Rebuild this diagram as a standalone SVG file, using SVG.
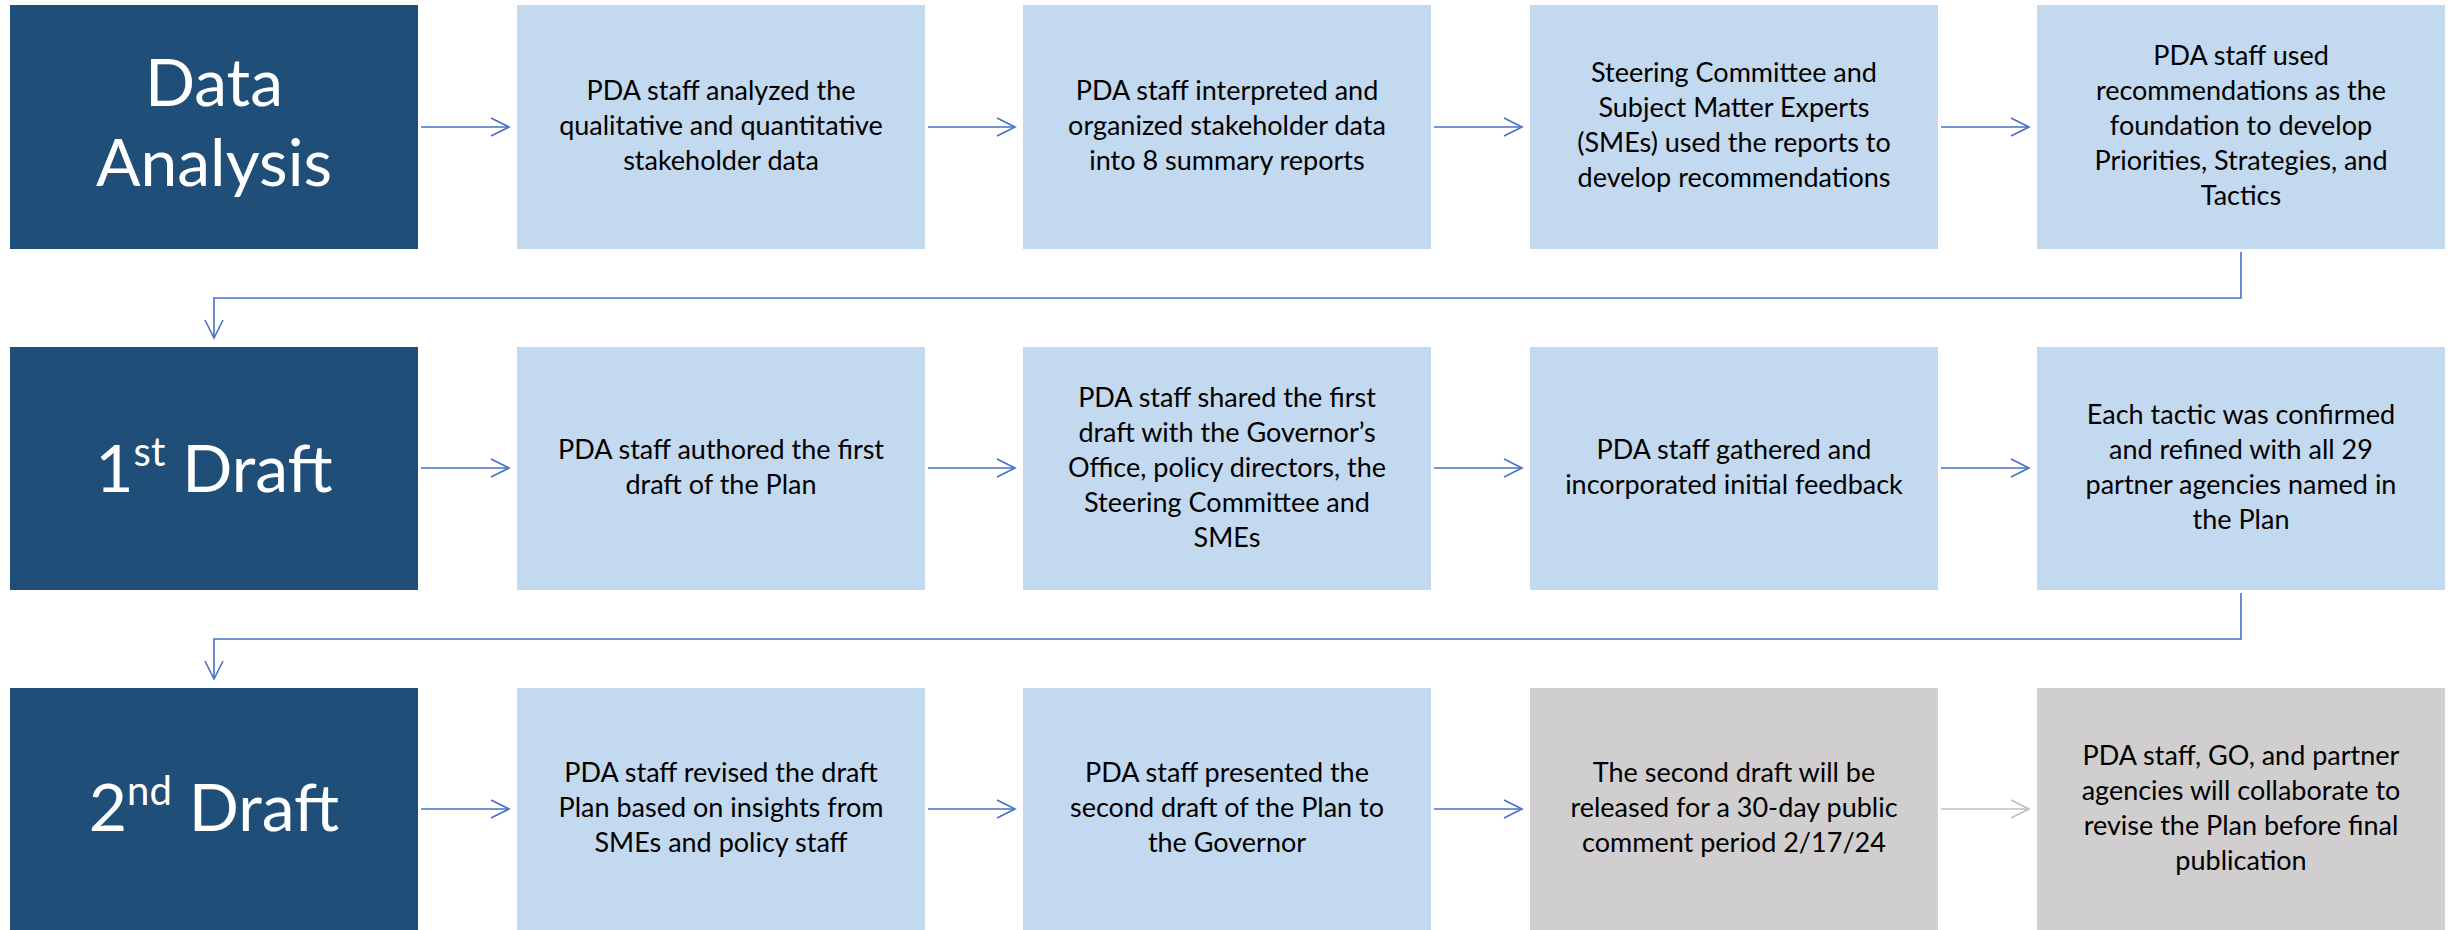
<svg xmlns="http://www.w3.org/2000/svg" width="2450" height="930" viewBox="0 0 2450 930">
<style>
.dark{fill:#1F4E79}
.light{fill:#C3D9EF}
.gray{fill:#D0CECE}
.title{font-family:Lato,"Liberation Sans",sans-serif;font-size:66px;fill:#FFFFFF;text-anchor:middle}
.t{font-family:Lato,"Liberation Sans",sans-serif;font-size:27px;fill:#000000;text-anchor:middle}
.c{fill:none;stroke:#4472C4;stroke-width:1.6}
.cg{fill:none;stroke:#BFBFBF;stroke-width:1.6}
</style>
<defs>
<marker id="ah" viewBox="0 0 20 20" refX="19" refY="10" markerWidth="20" markerHeight="20" markerUnits="userSpaceOnUse" orient="auto" overflow="visible">
<path d="M1,1 L19,10 L1,19" fill="none" stroke="#4472C4" stroke-width="1.6"/>
</marker>
<marker id="ahg" viewBox="0 0 20 20" refX="19" refY="10" markerWidth="20" markerHeight="20" markerUnits="userSpaceOnUse" orient="auto" overflow="visible">
<path d="M1,1 L19,10 L1,19" fill="none" stroke="#BFBFBF" stroke-width="1.6"/>
</marker>
</defs>
<rect width="2450" height="930" fill="#FFFFFF"/>

<g id="data-analysis"><rect class="dark" x="10" y="5" width="408" height="244"/>
<text class="title" x="214" y="106">Data</text><text class="title" x="214" y="186">Analysis</text></g>
<g id="r1c2"><rect class="light" x="517" y="5" width="408" height="244"/>
<text class="t" x="721" y="100">PDA staff analyzed the</text><text class="t" x="721" y="135">qualitative and quantitative</text><text class="t" x="721" y="170">stakeholder data</text></g>
<g id="r1c3"><rect class="light" x="1023" y="5" width="408" height="244"/>
<text class="t" x="1227" y="100">PDA staff interpreted and</text><text class="t" x="1227" y="135">organized stakeholder data</text><text class="t" x="1227" y="170">into 8 summary reports</text></g>
<g id="r1c4"><rect class="light" x="1530" y="5" width="408" height="244"/>
<text class="t" x="1734" y="82">Steering Committee and</text><text class="t" x="1734" y="117">Subject Matter Experts</text><text class="t" x="1734" y="152">(SMEs) used the reports to</text><text class="t" x="1734" y="187">develop recommendations</text></g>
<g id="r1c5"><rect class="light" x="2037" y="5" width="408" height="244"/>
<text class="t" x="2241" y="65">PDA staff used</text><text class="t" x="2241" y="100">recommendations as the</text><text class="t" x="2241" y="135">foundation to develop</text><text class="t" x="2241" y="170">Priorities, Strategies, and</text><text class="t" x="2241" y="205">Tactics</text></g>

<g id="first-draft"><rect class="dark" x="10" y="347" width="408" height="243"/>
<text class="title" x="214" y="492">1<tspan font-size="40" dy="-26">st</tspan><tspan dy="26"> Draft</tspan></text></g>
<g id="r2c2"><rect class="light" x="517" y="347" width="408" height="243"/>
<text class="t" x="721" y="459">PDA staff authored the first</text><text class="t" x="721" y="494">draft of the Plan</text></g>
<g id="r2c3"><rect class="light" x="1023" y="347" width="408" height="243"/>
<text class="t" x="1227" y="407">PDA staff shared the first</text><text class="t" x="1227" y="442">draft with the Governor’s</text><text class="t" x="1227" y="477">Office, policy directors, the</text><text class="t" x="1227" y="512">Steering Committee and</text><text class="t" x="1227" y="547">SMEs</text></g>
<g id="r2c4"><rect class="light" x="1530" y="347" width="408" height="243"/>
<text class="t" x="1734" y="459">PDA staff gathered and</text><text class="t" x="1734" y="494">incorporated initial feedback</text></g>
<g id="r2c5"><rect class="light" x="2037" y="347" width="408" height="243"/>
<text class="t" x="2241" y="424">Each tactic was confirmed</text><text class="t" x="2241" y="459">and refined with all 29</text><text class="t" x="2241" y="494">partner agencies named in</text><text class="t" x="2241" y="529">the Plan</text></g>

<g id="second-draft"><rect class="dark" x="10" y="688" width="408" height="242"/>
<text class="title" x="214" y="831">2<tspan font-size="40" dy="-26">nd</tspan><tspan dy="26"> Draft</tspan></text></g>
<g id="r3c2"><rect class="light" x="517" y="688" width="408" height="242"/>
<text class="t" x="721" y="782">PDA staff revised the draft</text><text class="t" x="721" y="817">Plan based on insights from</text><text class="t" x="721" y="852">SMEs and policy staff</text></g>
<g id="r3c3"><rect class="light" x="1023" y="688" width="408" height="242"/>
<text class="t" x="1227" y="782">PDA staff presented the</text><text class="t" x="1227" y="817">second draft of the Plan to</text><text class="t" x="1227" y="852">the Governor</text></g>
<g id="r3c4"><rect class="gray" x="1530" y="688" width="408" height="242"/>
<text class="t" x="1734" y="782">The second draft will be</text><text class="t" x="1734" y="817">released for a 30-day public</text><text class="t" x="1734" y="852">comment period 2/17/24</text></g>
<g id="r3c5"><rect class="gray" x="2037" y="688" width="408" height="242"/>
<text class="t" x="2241" y="765">PDA staff, GO, and partner</text><text class="t" x="2241" y="800">agencies will collaborate to</text><text class="t" x="2241" y="835">revise the Plan before final</text><text class="t" x="2241" y="870">publication</text></g>

<g id="connectors">
<path class="c" d="M421,127 H509" marker-end="url(#ah)"/>
<path class="c" d="M928,127 H1015" marker-end="url(#ah)"/>
<path class="c" d="M1434,127 H1522" marker-end="url(#ah)"/>
<path class="c" d="M1941,127 H2029" marker-end="url(#ah)"/>
<path class="c" d="M2241,252 V298 H214 V338" marker-end="url(#ah)"/>
<path class="c" d="M421,468 H509" marker-end="url(#ah)"/>
<path class="c" d="M928,468 H1015" marker-end="url(#ah)"/>
<path class="c" d="M1434,468 H1522" marker-end="url(#ah)"/>
<path class="c" d="M1941,468 H2029" marker-end="url(#ah)"/>
<path class="c" d="M2241,593 V639 H214 V679" marker-end="url(#ah)"/>
<path class="c" d="M421,809 H509" marker-end="url(#ah)"/>
<path class="c" d="M928,809 H1015" marker-end="url(#ah)"/>
<path class="c" d="M1434,809 H1522" marker-end="url(#ah)"/>
<path class="cg" d="M1941,809 H2029" marker-end="url(#ahg)"/>
</g>
</svg>
